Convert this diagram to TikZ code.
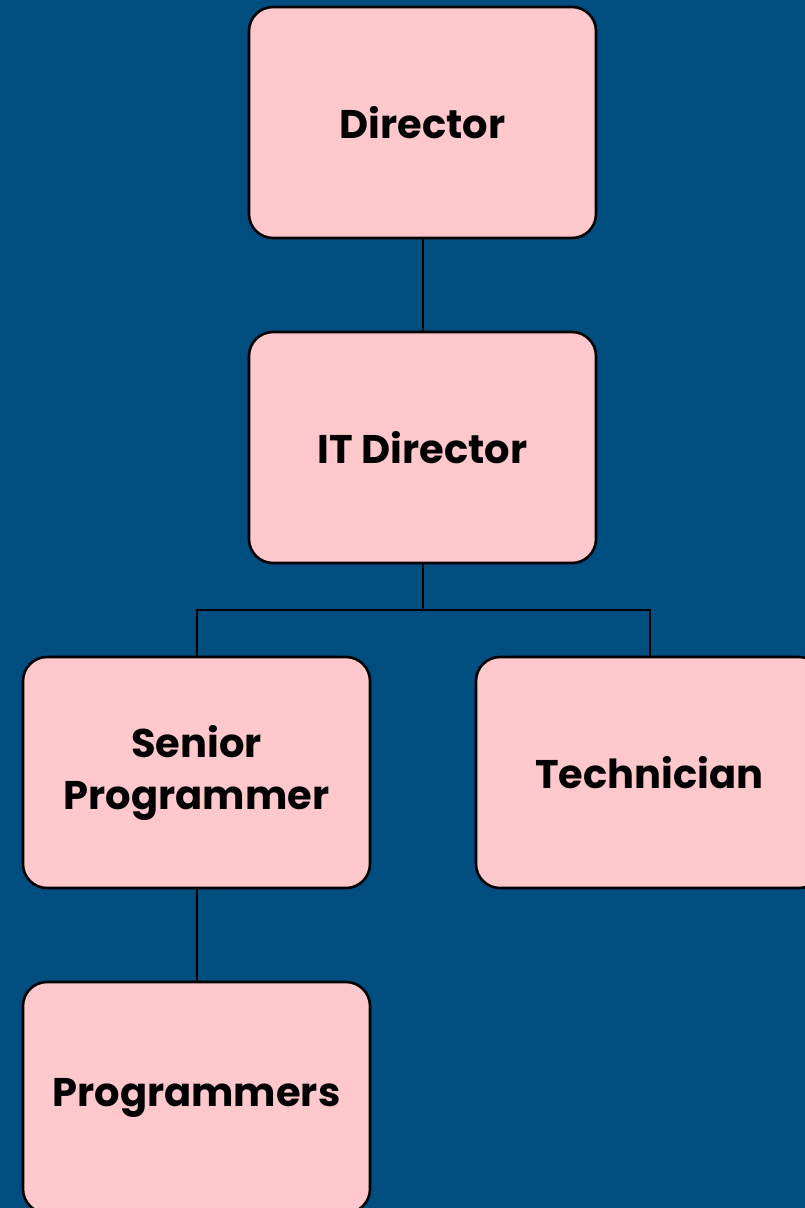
\documentclass[tikz,border=0pt]{standalone}
\usepackage{fontspec}
\setmainfont{Poppins}
\definecolor{bgblue}{RGB}{0,77,128}
\definecolor{boxpink}{RGB}{255,200,204}
\begin{document}
\begin{tikzpicture}[x=1pt,y=-1pt,
  orgbox/.style={draw=black,line width=2.6pt,fill=boxpink,rounded corners=24pt,
    minimum width=347pt,minimum height=231pt,inner sep=0pt,anchor=center,
    align=center,font=\fontsize{40}{52}\selectfont\bfseries},
  link/.style={draw=black,line width=2pt}]
\useasboundingbox (0,0) rectangle (805,1208);
\fill[bgblue] (0,0) rectangle (805,1208);
\begin{scope}
\clip (0,0) rectangle (805,1208);
\node[orgbox] (dir) at (422.5,122.5) {Director};
\node[orgbox] (itdir) at (422.5,447.5) {IT Director};
\node[orgbox] (senior) at (196.5,772.5) {Senior\\Programmer};
\node[orgbox] (tech) at (649.5,772.5) {Technician};
\node[orgbox] (progs) at (196.5,1097.5) {Programmers};
\coordinate (split) at (422.5,610);
\draw[link] (dir.south) -- (itdir.north);
\draw[link] (itdir.south) -- (split);
\draw[link] (senior.north) |- (split) -| (tech.north);
\draw[link] (senior.south) -- (progs.north);
\end{scope}
\end{tikzpicture}
\end{document}
